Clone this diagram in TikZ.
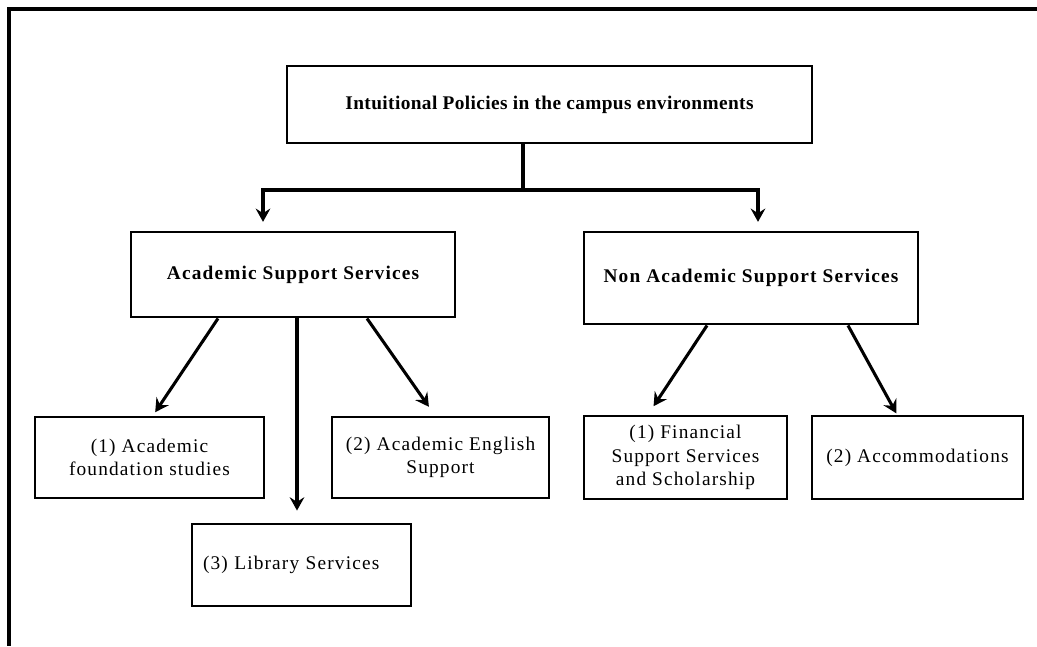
\documentclass[tikz,border=0pt]{standalone}
\usepackage{fontspec}
\setmainfont{Liberation Serif}
\newfontfamily\spacedfont[LetterSpace=6]{Liberation Serif}
\newfontfamily\topfont[LetterSpace=2]{Liberation Serif}
\usetikzlibrary{arrows.meta}
\begin{document}
\begin{tikzpicture}[x=0.75pt,y=-0.75pt,
  box/.style={draw=black, line width=2.2pt, rectangle, inner sep=0pt, align=center,
    font=\spacedfont\fontsize{14.5}{17.5}\selectfont},
  bbox/.style={box, font=\spacedfont\bfseries\fontsize{14.5}{17.5}\selectfont},
  arr/.style={line width=2.3pt, -{Stealth[length=10pt,width=11pt,inset=3.5pt]}},
  conn/.style={line width=2.3pt},
  frameline/.style={line width=2.4pt}]
\useasboundingbox (0,0) rectangle (1037,646);
\draw[frameline] (1037,9) -- (9,9) -- (9,646);

\node[box, font=\topfont\bfseries\fontsize{14.5}{17.5}\selectfont,
  minimum width=393.75pt, minimum height=57.75pt] (top) at (549.5,104.5)
  {\raisebox{3pt}{Intuitional Policies in the campus environments}};
\node[bbox, minimum width=243pt, minimum height=63.75pt] (acad) at (293,274.5)
  {Academic Support Services};
\node[bbox, minimum width=250.5pt, minimum height=69pt] (nonacad) at (751,278)
  {Non Academic Support Services};
\node[box, minimum width=171.75pt, minimum height=60.75pt] (found) at (149.5,457.5)
  {(1) Academic\\foundation studies};
\node[box, minimum width=162.75pt, minimum height=60.75pt] (eng) at (440.5,457.5)
  {(2) Academic English\\Support};
\node[box, align=left, text width=147.75pt, inner xsep=8.25pt, minimum height=61.5pt] (lib) at (301.5,565)
  {(3) Library Services};
\node[box, minimum width=152.25pt, minimum height=62.25pt] (fin) at (685.5,457.5)
  {(1) Financial\\Support Services\\and Scholarship};
\node[box, minimum width=158.25pt, minimum height=62.25pt] (accom) at (917.5,457.5)
  {(2) Accommodations};

\coordinate (j) at (523,190);
\coordinate (jl) at (263,190);
\coordinate (jr) at (758,190);
\draw[conn] (top.south -| j) -- (j);
\draw[arr, shorten >=6.5pt] (j) -- (jl) -- (jl |- acad.north);
\draw[arr, shorten >=6.5pt] (j) -- (jr) -- (jr |- nonacad.north);

\draw[arr, shorten >=3pt] ([xshift=-56.25pt]acad.south) -- ([xshift=2.6pt]found.north);
\draw[arr, shorten >=9pt] ([xshift=3pt]acad.south) -- ([xshift=3pt]acad.south |- lib.north);
\draw[arr, shorten >=8pt] ([xshift=55.5pt]acad.south) -- ([xshift=-4.1pt]eng.north);
\draw[arr, shorten >=7.5pt] ([xshift=-33pt]nonacad.south) -- ([xshift=-28.1pt]fin.north);
\draw[arr, shorten >=1pt] ([xshift=72.75pt]nonacad.south) -- ([xshift=-15.4pt]accom.north);
\end{tikzpicture}
\end{document}
